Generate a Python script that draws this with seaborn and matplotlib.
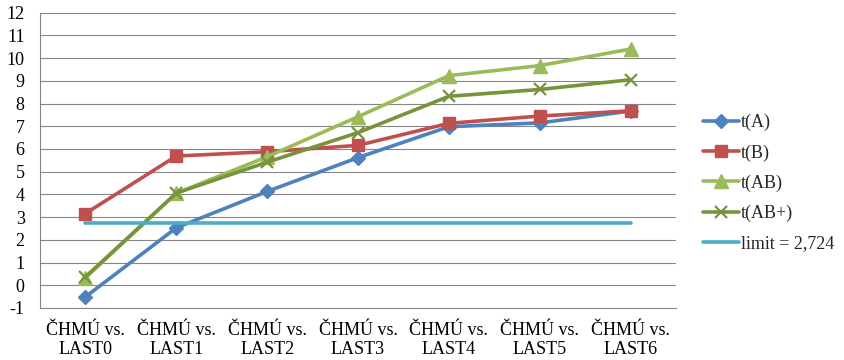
import numpy as np
import pandas as pd
import matplotlib
matplotlib.use("Agg")
import matplotlib.pyplot as plt
import seaborn as sns

categories = ["ČHMÚ vs.\nLAST0", "ČHMÚ vs.\nLAST1", "ČHMÚ vs.\nLAST2", "ČHMÚ vs.\nLAST3",
              "ČHMÚ vs.\nLAST4", "ČHMÚ vs.\nLAST5", "ČHMÚ vs.\nLAST6"]
t_a = [-0.51, 2.53, 4.13, 5.62, 6.98, 7.15, 7.67]
t_b = [3.16, 5.69, 5.88, 6.16, 7.13, 7.45, 7.68]
t_ab = [0.33, 4.05, 5.66, 7.42, 9.23, 9.67, 10.40]
t_abp = [0.37, 4.06, 5.42, 6.72, 8.32, 8.62, 9.05]
limit = 2.724
limit_label = "limit = 2,724"

sns.set_theme(style="white")
plt.rcParams["font.family"] = ["Liberation Serif", "DejaVu Serif"]
plt.rcParams["font.size"] = 13
plt.rcParams["axes.unicode_minus"] = False

fig = plt.figure(figsize=(8.45, 3.6), dpi=100)
ax = fig.add_axes([40 / 845, 1 - 308 / 360, (676 - 40) / 845, (308 - 12.7) / 360])

x = np.arange(len(categories))
df = pd.DataFrame({"x": x, "t(A)": t_a, "t(B)": t_b, "t(AB)": t_ab, "t(AB+)": t_abp,
                   limit_label: [limit] * len(categories)})

styles = [
    ("t(A)", "#4F81BD", "D", 7, 1.0),
    ("t(B)", "#C0504D", "s", 9, 1.0),
    ("t(AB)", "#9BBB59", "^", 10, 1.0),
    ("t(AB+)", "#77933C", "x", 9, 1.6),
]
for name, color, marker, ms, mew in styles:
    sns.lineplot(data=df, x="x", y=name, ax=ax, color=color, linewidth=2.6,
                 marker=marker, markersize=ms, markeredgewidth=mew,
                 markeredgecolor=color, label=name, sort=False)
sns.lineplot(data=df, x="x", y=limit_label, ax=ax, color="#4BACC6", linewidth=2.6,
             label=limit_label, sort=False)

ax.set_xlim(-0.5, len(categories) - 0.5)
ax.set_ylim(-1, 12)
ax.set_yticks(range(-1, 13))
ax.set_xticks(x)
ax.set_xticklabels(categories, linespacing=1.15)
ax.set_xticks(np.arange(-0.5, len(categories)), minor=True)
ax.tick_params(axis="x", which="major", length=0, pad=10, labelsize=13, colors="black")
ax.tick_params(axis="x", which="minor", length=5, width=0.8, color="#868686", direction="out")
ax.tick_params(axis="y", which="major", length=5, width=0.8, color="#868686",
               direction="out", pad=6, labelsize=13, colors="black")
for lbl in ax.get_yticklabels():
    lbl.set_color("black")
ax.set_xlabel("")
ax.set_ylabel("")
ax.grid(axis="y", color="#868686", linewidth=0.8)
ax.set_axisbelow(True)
for side in ["top", "right"]:
    ax.spines[side].set_visible(False)
for side in ["left", "bottom"]:
    ax.spines[side].set_color("#868686")
    ax.spines[side].set_linewidth(0.8)

ax.legend(loc="center left", bbox_to_anchor=(703 / 845, 1 - 183 / 360),
          bbox_transform=fig.transFigure, frameon=False, borderpad=0,
          borderaxespad=0, handlelength=2.0, handletextpad=0.1,
          labelspacing=0.72, fontsize=13)

fig.savefig("out.png", dpi=100)
